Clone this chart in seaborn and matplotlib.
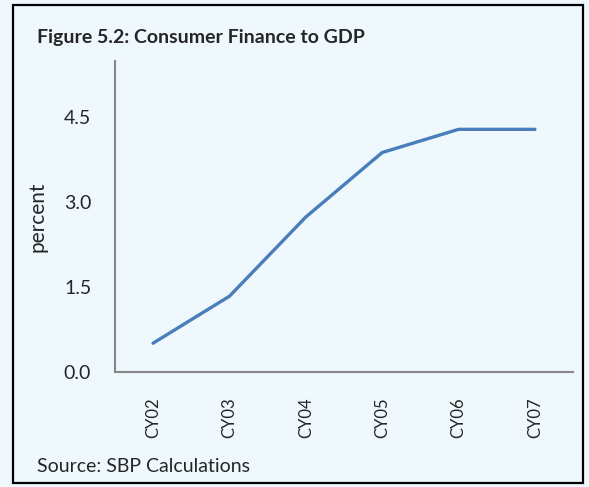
import matplotlib
matplotlib.use("Agg")
import matplotlib.pyplot as plt
import seaborn as sns
import pandas as pd
from matplotlib.patches import Rectangle

categories = ["CY02", "CY03", "CY04", "CY05", "CY06", "CY07"]
values = [0.51, 1.34, 2.74, 3.88, 4.29, 4.29]
yticks = [0.0, 1.5, 3.0, 4.5]
ytick_labels = ["0.0", "1.5", "3.0", "4.5"]

sns.set_style("white")
plt.rcParams["font.family"] = ["Lato", "DejaVu Sans"]

bg = "#EEF8FD"
fig = plt.figure(figsize=(5.89, 4.87), dpi=100, facecolor=bg)
ax = fig.add_axes([0.195, 0.236, 0.778, 0.639])
ax.set_facecolor(bg)

df = pd.DataFrame({"cat": categories, "val": values})
df["x"] = range(len(categories))
sns.lineplot(data=df, x="x", y="val", ax=ax, color="#4A7EBB", linewidth=2.4)

ax.set_xlim(-0.5, len(categories) - 0.5)
ax.set_ylim(0, 5.5)
ax.set_yticks(yticks)
ax.set_yticklabels(ytick_labels, fontsize=14)
ax.set_xticks(range(len(categories)))
ax.set_xticklabels(categories, rotation=90, fontsize=12)
ax.set_xticks([i - 0.5 for i in range(len(categories) + 1)], minor=True)
ax.tick_params(axis="x", which="major", length=0, pad=18)
ax.tick_params(axis="x", which="minor", length=7, width=1.3, color="#888888", direction="out")
ax.tick_params(axis="y", length=5, width=1.3, color="#888888", direction="out", pad=12)
ax.set_xlabel("")
ax.set_ylabel("percent", fontsize=15, labelpad=12)

for s in ["top", "right"]:
    ax.spines[s].set_visible(False)
for s in ["left", "bottom"]:
    ax.spines[s].set_color("#888888")
    ax.spines[s].set_linewidth(1.5)

fig.text(37 / 589, 1 - 37 / 487, "Figure 5.2: Consumer Finance to GDP", fontsize=14,
         fontweight="bold", va="center", ha="left")
fig.text(37 / 589, 1 - 466 / 487, "Source: SBP Calculations", fontsize=14,
         va="center", ha="left")

fig.patches.append(Rectangle((13 / 589, 1 - 483 / 487), 570 / 589, 478 / 487,
                             transform=fig.transFigure, fill=False,
                             edgecolor="black", linewidth=1.6))

fig.savefig("out.png", dpi=100, facecolor=bg)
